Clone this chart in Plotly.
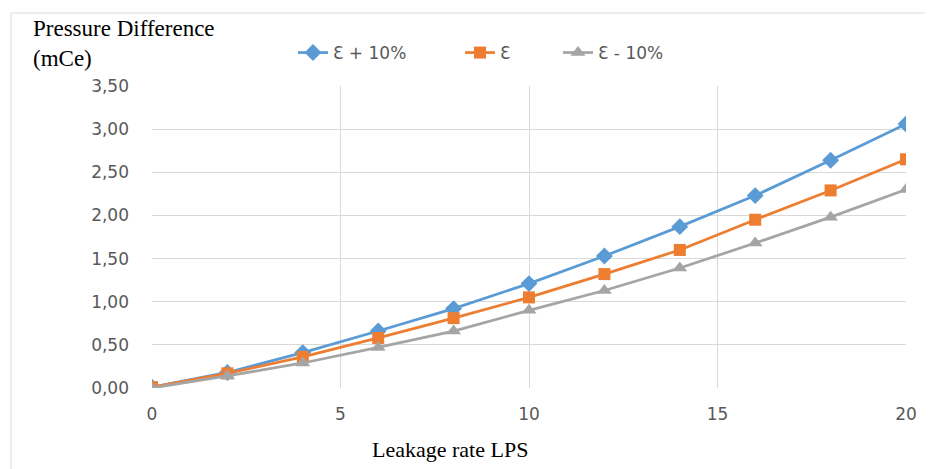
import plotly.graph_objects as go

leak_rate = [0, 2, 4, 6, 8, 10, 12, 14, 16, 18, 20]
eps_plus10 = [0.01, 0.18, 0.41, 0.66, 0.92, 1.21, 1.53, 1.87, 2.23, 2.64, 3.06]
eps_base = [0.01, 0.17, 0.36, 0.58, 0.81, 1.05, 1.32, 1.60, 1.95, 2.29, 2.65]
eps_minus10 = [0.0, 0.14, 0.29, 0.47, 0.66, 0.90, 1.13, 1.39, 1.68, 1.98, 2.30]
series_names = ["\u0190 + 10%", "\u0190", "\u0190 - 10%"]
y_ticks = [0, 0.5, 1, 1.5, 2, 2.5, 3, 3.5]
x_ticks = [0, 5, 10, 15, 20]

colors = ["#5B9BD5", "#ED7D31", "#A5A5A5"]
symbols = ["diamond", "square", "triangle-up"]
sizes = [13, 12, 13]
legend_ids = ["legend", "legend2", "legend3"]
legend_text_x = [335, 502, 600]  # target text-start pixel positions

# page has an 8px body margin: work in page pixels, convert to figure pixels
OFF = 8
W, H = 933 - OFF, 469 - OFF
L, R, T, B = 152 - OFF, 906 - OFF, 86 - OFF, 388 - OFF
pw, ph = R - L, B - T

SANS = "DejaVu Sans"
SERIF = "Liberation Serif"


def px_x(p):
    return (p - OFF - L) / pw


def px_y(p):
    return (B - (p - OFF)) / ph


fig = go.Figure()
for name, ys, c, s, sz, lg in zip(series_names, [eps_plus10, eps_base, eps_minus10],
                                  colors, symbols, sizes, legend_ids):
    fig.add_trace(go.Scatter(
        x=leak_rate, y=ys, name=name, mode="lines+markers",
        line=dict(color=c, width=2.75),
        marker=dict(symbol=s, size=sz, color=c),
        legend=lg,
    ))

legend_common = dict(orientation="h", yanchor="middle", xanchor="left",
                     font=dict(family=SANS, size=17, color="#595959"),
                     bgcolor="rgba(0,0,0,0)", borderwidth=0)

layout_legends = {}
for lg, tx in zip(legend_ids, legend_text_x):
    layout_legends[lg] = dict(legend_common, x=px_x(tx - 42), y=px_y(53))

fig.update_layout(
    width=W, height=H,
    margin=dict(l=L, r=W - R, t=T, b=H - B, pad=0),
    paper_bgcolor="white", plot_bgcolor="white",
    separators=", ",
    font=dict(family=SANS, color="#595959", size=17),
    showlegend=True,
    xaxis=dict(
        range=[0, 20], tickvals=x_ticks, showgrid=True, gridcolor="#D9D9D9", gridwidth=1,
        zeroline=False, showline=False, ticks="", ticklabelstandoff=14,
        tickfont=dict(family=SANS, size=17, color="#595959"),
    ),
    yaxis=dict(
        range=[0, 3.5], tickvals=y_ticks, tickformat=".2f", showgrid=True,
        gridcolor="#D9D9D9", gridwidth=1, zeroline=False, showline=False, ticks="",
        ticklabelstandoff=22, tickfont=dict(family=SANS, size=17, color="#595959"),
    ),
    annotations=[
        dict(text="Pressure Difference<br>(mCe)", xref="paper", yref="paper",
             x=px_x(31), y=px_y(14), xanchor="left", yanchor="top", align="left",
             showarrow=False, font=dict(family=SERIF, size=23, color="#000000")),
        dict(text="Leakage rate LPS", xref="paper", yref="paper",
             x=px_x(450), y=px_y(449), xanchor="center", yanchor="middle",
             showarrow=False, font=dict(family=SERIF, size=22, color="#000000")),
    ],
    shapes=[
        dict(type="line", xref="paper", yref="paper",
             x0=px_x(11), x1=px_x(11), y0=px_y(469), y1=px_y(13),
             line=dict(color="#D9D9D9", width=1), layer="below"),
        dict(type="line", xref="paper", yref="paper",
             x0=px_x(11), x1=px_x(933), y0=px_y(13), y1=px_y(13),
             line=dict(color="#D9D9D9", width=1), layer="below"),
    ],
    **layout_legends,
)

fig.write_html("out.html")
